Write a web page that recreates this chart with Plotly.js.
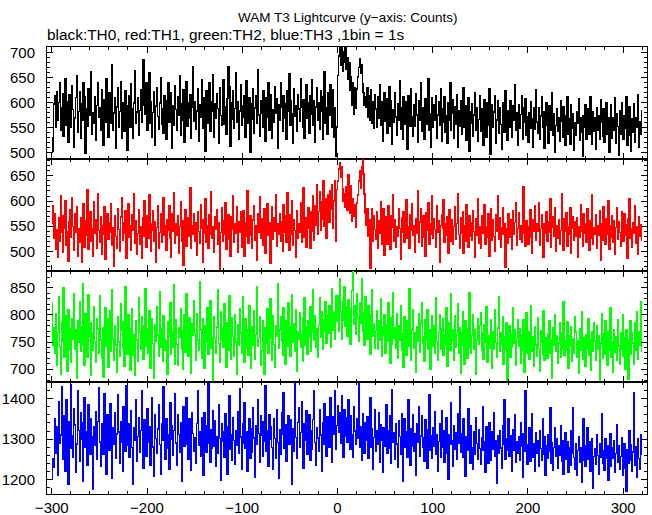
<!DOCTYPE html>
<html>
<head>
<meta charset="utf-8">
<script src="https://cdn.plot.ly/plotly-3.0.1.min.js"></script>
<style>html,body{margin:0;padding:0;background:#fff}#chart{width:652px;height:515px}
#chart .scatterlayer path.js-line{shape-rendering:crispEdges}</style>
</head>
<body>
<div id="chart"></div>
<script>
// Light curve, 1 bin = 1 s, first bin starts at t = -300 s
const tStart = -300;
const binSize = 1;

// TH0 (black) counts per bin
const th0 = [
531,502,598,615,552,622,566,601,640,545,
590,618,534,571,648,555,603,521,617,579,
552,634,587,511,570,611,655,541,583,623,
529,598,565,640,612,498,589,553,629,575,
602,662,537,580,559,612,525,595,640,572,
590,546,627,581,515,606,562,648,578,532,
620,559,597,676,546,580,611,508,592,630,
551,583,642,530,601,574,543,625,595,505,
576,615,552,638,588,528,600,664,560,582,
610,535,585,626,562,596,686,617,578,641,
546,591,660,559,603,531,581,623,515,594,
631,573,548,600,650,557,589,540,615,578,
526,604,640,561,582,620,509,595,555,634,
587,545,612,576,655,536,599,566,626,520,
581,643,554,600,570,617,529,591,672,563,
603,547,584,628,522,596,572,647,550,611,
578,503,624,592,560,640,543,603,584,657,
531,598,570,618,589,518,631,575,556,613,
646,557,592,538,609,672,633,513,600,568,
624,549,589,660,561,603,526,584,637,555,
594,571,614,532,645,587,560,610,500,598,
568,628,539,590,614,559,667,576,533,604,
580,551,624,596,523,611,572,641,546,591,
617,530,587,562,632,580,608,508,597,565,
640,592,544,614,570,599,527,624,584,658,
555,604,578,518,628,573,595,543,616,588,
563,648,592,551,607,530,581,636,570,600,
540,615,577,646,555,605,521,592,630,566,
600,548,624,583,527,612,662,560,591,538,
620,575,637,596,552,627,531,590,492,552,
655,694,710,675,720,664,702,681,716,668,
690,648,680,625,652,596,641,578,630,590,
628,652,671,688,660,676,638,621,596,612,
592,630,571,614,566,626,560,602,549,617,
588,551,613,570,636,555,602,523,593,621,
564,608,540,588,632,553,604,516,586,561,
620,572,535,598,565,645,548,590,527,612,
557,603,571,506,615,581,554,629,573,534,
596,553,619,576,521,605,565,640,544,590,
573,527,609,557,587,648,546,578,511,611,
551,597,566,614,530,576,603,556,628,522,
588,561,612,541,575,518,600,565,641,545,
579,607,528,592,557,617,511,584,553,605,
537,570,630,552,594,525,568,611,502,583,
559,598,533,576,621,546,590,522,567,614,
544,588,558,514,607,572,531,600,556,629,
496,530,596,551,582,615,518,566,605,540,
591,557,506,601,572,541,624,560,525,585,
551,605,574,532,595,566,636,545,580,515,
597,549,577,614,527,590,561,609,536,573,
521,581,550,602,568,510,591,547,627,562,
540,590,527,574,613,551,583,508,567,600,
556,519,595,546,573,620,535,579,500,555,
588,543,571,523,604,563,532,592,553,514,
575,612,538,568,517,597,550,579,505,561,
536,583,559,609,525,570,541,492,574,552,
596,527,566,589,538,613,556,516,582,543,
570,506,591,546,574,527,606,561,533,588,
521,563,600,537,571,500,557,596,529,570,
545,611,518,579,553,494,584,538,601,560,
527,575,549,612,515,566,592,536,502,569,
541,598,520,571,551,616,510,562,537,585
];

// TH1 (red) counts per bin
const th1 = [
555,591,525,575,504,544,488,566,520,610,
537,498,570,546,601,513,540,480,558,582,
527,607,549,502,574,537,588,491,546,518,
566,478,541,594,509,560,531,623,505,550,
579,521,545,490,598,536,563,507,614,542,
519,568,495,552,533,588,484,549,574,524,
557,537,595,513,548,470,571,530,506,585,
543,500,568,606,522,556,536,580,486,546,
594,528,552,503,572,541,615,517,560,494,
536,583,514,549,486,566,530,600,545,509,
571,526,612,554,500,542,580,520,559,478,
548,591,507,537,574,519,556,607,531,552,
502,563,542,590,525,488,575,539,616,516,
554,531,571,497,549,598,520,560,472,542,
583,511,546,566,530,626,506,551,534,574,
521,557,493,578,540,517,592,545,479,563,
536,604,519,552,506,572,533,619,525,549,
498,568,543,582,514,556,462,538,586,520,
560,533,597,505,548,572,524,491,568,543,
610,519,554,535,588,499,559,537,579,508,
542,580,490,557,529,621,517,546,571,532,
506,562,591,522,551,483,574,537,609,526,
565,513,549,585,497,545,595,531,557,476,
548,588,524,566,540,613,511,554,534,575,
521,559,501,592,537,571,519,617,545,503,
572,533,601,513,562,541,488,580,526,554,
537,597,518,557,626,527,566,508,546,586,
561,506,578,540,610,522,590,552,632,534,
579,619,541,598,563,640,549,605,526,584,
612,557,620,584,633,545,600,640,520,623,
640,664,676,648,668,625,600,615,588,628,
582,652,608,576,630,560,604,570,592,548,
596,612,640,660,626,668,686,654,614,575,
552,585,530,562,466,548,584,521,571,543,
524,578,506,560,536,598,515,552,585,492,
543,569,514,590,535,504,570,547,612,520,
562,508,550,530,584,546,485,567,537,578,
518,556,603,526,549,506,573,541,594,531,
552,498,565,535,621,519,558,585,511,545,
570,528,490,577,541,597,515,554,533,611,
525,564,544,508,590,537,561,478,551,573,
546,602,518,555,531,569,497,582,541,520,
563,514,549,588,524,555,615,533,506,566,
535,578,496,552,521,592,543,508,570,530,
557,522,580,539,488,564,531,605,516,550,
506,570,536,559,593,514,549,527,575,490,
543,584,522,563,530,500,572,540,610,524,
566,509,547,587,534,554,468,546,517,574,
527,562,539,504,581,533,557,597,513,545,
576,524,551,518,567,628,536,510,560,533,
514,549,582,528,497,563,539,590,522,554,
540,596,512,546,573,526,489,555,535,578,
520,558,537,605,508,548,569,529,587,500,
552,526,563,515,542,614,533,503,565,539,
576,511,550,534,586,497,545,569,522,559,
530,567,488,549,527,593,539,510,574,536,
555,519,584,543,502,560,526,612,515,548,
534,572,506,551,531,580,483,554,522,588,
543,514,565,533,600,505,552,528,571,519,
561,494,547,586,524,558,537,510,578,540,
520,574,531,553,487,565,604,526,546,508,
557,535,591,516,549,495,569,530,553,521
];

// TH2 (green) counts per bin
const th2 = [
822,745,776,729,803,707,768,833,741,690,
785,752,851,722,798,761,696,810,736,775,
712,794,755,840,737,772,684,789,749,825,
733,778,857,745,707,802,761,722,838,758,
786,689,767,735,815,751,713,794,774,729,
836,754,720,776,686,760,814,742,793,703,
768,808,733,846,756,716,781,745,694,797,
750,724,821,771,739,788,706,852,758,728,
800,747,698,775,812,726,764,688,790,754,
714,831,769,737,797,757,718,780,849,742,
774,730,808,702,762,793,747,684,782,752,
815,763,724,843,740,775,715,799,756,735,
753,691,788,761,822,727,769,741,855,710,
791,746,707,777,759,811,736,699,771,800,
731,840,756,723,795,749,693,784,763,827,
766,717,803,754,735,862,772,721,793,744,
701,780,750,813,728,768,826,738,759,680,
797,757,729,778,846,747,712,806,753,774,
741,820,765,703,785,734,835,757,719,795,
760,724,801,750,690,782,745,812,767,730,
833,755,713,793,738,772,726,818,751,702,
779,744,808,718,764,852,743,759,797,708,
735,789,755,690,776,748,812,729,764,830,
757,716,798,746,703,781,761,857,738,772,
797,751,726,814,760,709,790,742,823,763,
723,779,838,750,784,733,809,697,770,755,
804,740,763,714,795,831,745,779,728,789,
759,815,733,768,846,754,799,741,775,722,
781,832,758,806,736,791,770,825,748,800,
766,818,785,740,848,772,805,756,836,789,
836,770,866,806,756,825,790,852,779,815,
760,829,795,746,811,845,884,782,818,764,
840,795,752,822,784,866,770,805,745,833,
792,756,818,775,727,800,846,760,784,739,
771,808,737,789,753,830,724,778,762,800,
729,782,751,822,768,711,795,746,842,757,
776,738,803,721,781,753,818,734,765,703,
797,755,726,789,743,848,760,717,772,810,
739,768,695,779,752,802,731,785,823,748,
760,715,791,753,810,736,773,700,762,798,
742,781,730,832,751,717,768,800,737,775,
793,725,764,745,813,706,758,785,734,839,
752,773,716,799,740,766,820,729,777,692,
767,806,744,710,790,756,721,775,841,740,
730,762,800,736,773,690,754,794,746,781,
804,734,767,719,783,750,816,713,761,738,
755,791,702,770,737,810,749,722,776,833,
733,768,745,797,710,760,736,785,680,752,
780,722,763,740,814,747,773,707,757,792,
742,775,711,764,735,792,694,752,805,730,
770,718,751,818,733,760,705,778,745,723,
795,738,697,771,749,727,808,716,759,737,
720,766,789,729,755,683,776,744,800,733,
761,711,748,785,722,768,737,824,725,752,
734,787,701,762,743,778,715,756,730,797,
769,722,753,692,775,735,806,718,758,742,
706,764,738,793,726,754,698,770,733,786,
752,717,780,737,761,680,748,803,720,765,
728,790,749,708,769,734,814,722,751,694,
773,732,760,716,792,743,709,767,736,800,
723,758,700,773,741,681,755,790,727,768,
748,709,786,735,806,718,770,744,825,731
];

// TH3 (blue) counts per bin
const th3 = [
1203,1252,1230,1350,1265,1330,1210,1392,1290,1310,
1428,1250,1357,1296,1220,1398,1318,1188,1343,1277,
1435,1309,1256,1374,1335,1218,1288,1418,1322,1246,
1364,1299,1196,1340,1402,1280,1318,1236,1385,1295,
1262,1350,1306,1176,1330,1284,1368,1250,1344,1426,
1293,1232,1338,1316,1262,1413,1303,1214,1360,1322,
1273,1388,1299,1203,1328,1287,1364,1253,1313,1410,
1318,1240,1344,1293,1222,1380,1309,1270,1432,1286,
1338,1255,1304,1369,1280,1190,1327,1297,1396,1246,
1307,1354,1268,1322,1418,1285,1229,1347,1312,1258,
1375,1293,1330,1236,1316,1402,1281,1208,1360,1301,
1265,1325,1384,1287,1214,1338,1296,1430,1318,1250,
1351,1278,1310,1227,1390,1300,1332,1261,1321,1412,
1291,1236,1360,1311,1267,1341,1196,1302,1380,1283,
1327,1402,1287,1250,1351,1297,1224,1366,1314,1270,
1304,1240,1339,1418,1285,1318,1257,1354,1295,1210,
1364,1313,1268,1332,1437,1290,1244,1323,1278,1370,
1283,1345,1232,1306,1264,1384,1302,1198,1339,1294,
1318,1255,1362,1290,1214,1331,1408,1275,1311,1248,
1354,1296,1238,1322,1284,1368,1264,1424,1305,1226,
1289,1339,1390,1277,1318,1220,1296,1350,1252,1325,
1267,1378,1303,1206,1332,1287,1397,1314,1244,1357,
1309,1258,1342,1294,1432,1271,1321,1232,1361,1299,
1330,1280,1226,1351,1302,1253,1373,1292,1204,1323,
1262,1366,1313,1415,1278,1336,1246,1308,1357,1288,
1349,1297,1190,1325,1271,1443,1304,1252,1341,1378,
1281,1316,1393,1290,1228,1337,1298,1370,1263,1311,
1359,1248,1320,1275,1348,1418,1292,1236,1329,1303,
1270,1373,1310,1220,1341,1287,1387,1315,1258,1355,
1322,1280,1402,1301,1242,1356,1313,1420,1276,1333,
1382,1316,1365,1290,1408,1336,1255,1372,1308,1353,
1292,1396,1330,1274,1358,1310,1256,1380,1320,1287,
1350,1303,1436,1281,1331,1248,1362,1309,1265,1341,
1297,1356,1252,1314,1402,1280,1325,1226,1304,1372,
1269,1320,1288,1365,1243,1336,1298,1218,1329,1282,
1310,1385,1264,1321,1277,1357,1240,1421,1292,1315,
1250,1338,1288,1230,1345,1306,1262,1362,1196,1300,
1350,1279,1318,1256,1398,1295,1236,1326,1283,1361,
1270,1313,1212,1338,1293,1380,1259,1308,1357,1280,
1303,1246,1347,1287,1228,1323,1410,1272,1309,1253,
1328,1283,1367,1262,1311,1221,1294,1339,1255,1371,
1280,1321,1243,1301,1352,1266,1200,1310,1288,1390,
1295,1234,1333,1276,1317,1250,1362,1290,1428,1267,
1313,1256,1350,1285,1208,1307,1273,1374,1297,1240,
1334,1280,1225,1318,1262,1354,1289,1250,1323,1277,
1238,1304,1381,1272,1294,1218,1330,1282,1241,1341,
1292,1248,1318,1275,1364,1258,1296,1192,1308,1266,
1322,1278,1228,1333,1288,1396,1251,1302,1272,1350,
1258,1309,1281,1222,1324,1273,1360,1242,1294,1264,
1305,1249,1340,1282,1206,1313,1270,1418,1287,1238,
1274,1328,1245,1300,1362,1256,1290,1220,1316,1265,
1296,1234,1320,1277,1249,1350,1262,1305,1210,1285,
1253,1310,1270,1377,1240,1291,1224,1280,1329,1258,
1301,1228,1284,1260,1334,1246,1296,1214,1272,1316,
1250,1294,1218,1280,1236,1322,1266,1378,1255,1226,
1288,1210,1272,1306,1243,1279,1194,1262,1350,1249,
1232,1283,1328,1251,1293,1222,1268,1302,1180,1257,
1277,1238,1311,1260,1214,1290,1255,1362,1240,1272,
1224,1300,1252,1284,1198,1266,1314,1233,1279,1254,
1296,1218,1264,1336,1243,1283,1226,1258,1303,1210,
1259,1290,1228,1172,1275,1240,1322,1248,1286,1220,
1268,1415,1236,1282,1206,1300,1252,1226,1310,1262
];

const xTickVals = [-300, -200, -100, 0, 100, 200, 300];
const titleText = 'WAM T3 Lightcurve (y\u2212axis: Counts)';
const subtitleText = 'black:TH0, red:TH1, green:TH2, blue:TH3 ,1bin = 1s';

const series = [th0, th1, th2, th3];
const colors = ['#000000', '#ff0000', '#00ff00', '#0000ff'];
const yRanges = [[488, 712], [462, 684], [676, 882], [1165, 1440]];
const yTicks = [[500, 550, 600, 650, 700], [500, 550, 600, 650], [700, 750, 800, 850], [1200, 1300, 1400]];
const yMinor = [10, 10, 10, 20];

const time = series[0].map((_, i) => tStart + i * binSize);

const font = {family: 'Liberation Sans, Arial, sans-serif', size: 15, color: '#000'};
const traces = [];
const layout = {
  width: 652, height: 515,
  margin: {l: 47, r: 5, t: 47, b: 21, pad: 0},
  paper_bgcolor: '#fff', plot_bgcolor: '#fff',
  showlegend: false,
  font: font,
  annotations: [
    {text: titleText, xref: 'paper', yref: 'paper', x: 0.5, y: 1.067, xanchor: 'center', yanchor: 'middle', showarrow: false, font: {family: font.family, size: 13.5, color: '#000'}},
    {text: subtitleText, xref: 'paper', yref: 'paper', x: -0.003, y: 1.027, xanchor: 'left', yanchor: 'middle', showarrow: false, font: {family: font.family, size: 15.4, color: '#000'}}
  ]
};

for (let i = 0; i < 4; i++) {
  const n = i + 1;
  const xa = n === 1 ? 'x' : 'x' + n;
  const ya = n === 1 ? 'y' : 'y' + n;
  traces.push({
    x: time, y: series[i], xaxis: xa, yaxis: ya,
    type: 'scatter', mode: 'lines',
    line: {color: colors[i], width: 1.4, shape: 'hv'},
    hoverinfo: 'skip'
  });
  const top = 1 - i / 4, bottom = 1 - (i + 1) / 4;
  layout['xaxis' + (n === 1 ? '' : n)] = {
    anchor: ya, domain: [0, 1], range: [-305, 325],
    matches: n === 1 ? undefined : 'x',
    tickmode: 'array', tickvals: xTickVals,
    ticks: 'inside', ticklen: 6, tickwidth: 1, tickcolor: '#000',
    minor: {ticks: 'inside', dtick: 20, tick0: 0, ticklen: 3, tickwidth: 1, tickcolor: '#000', showgrid: false},
    showticklabels: n === 4, tickfont: font,
    showline: true, linecolor: '#000', linewidth: 1, mirror: 'ticks',
    showgrid: false, zeroline: false
  };
  layout['yaxis' + (n === 1 ? '' : n)] = {
    anchor: xa, domain: [bottom, top], range: yRanges[i],
    tickmode: 'array', tickvals: yTicks[i],
    ticks: 'inside', ticklen: 6, tickwidth: 1, tickcolor: '#000',
    minor: {ticks: 'inside', dtick: yMinor[i], tick0: 0, ticklen: 3, tickwidth: 1, tickcolor: '#000', showgrid: false},
    tickfont: font, ticklabelstandoff: 8,
    showline: true, linecolor: '#000', linewidth: 1, mirror: 'ticks',
    showgrid: false, zeroline: false
  };
}

Plotly.newPlot('chart', traces, layout, {staticPlot: true, displayModeBar: false});
</script>
</body>
</html>
